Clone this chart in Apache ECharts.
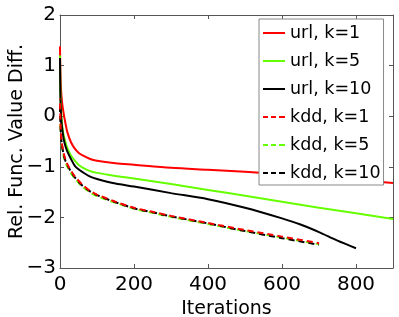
<!DOCTYPE html>
<html>
<head>
<meta charset="utf-8">
<script src="https://cdn.jsdelivr.net/npm/echarts@6/dist/echarts.min.js"></script>
<style>html,body{margin:0;padding:0;background:#fff;}#c{width:399px;height:317px;}</style>
</head>
<body>
<div id="c"></div>
<script>
// Data
var xTicks = [0, 200, 400, 600, 800];
var yTicks = [-3, -2, -1, 0, 1, 2];

var urlK1X = [0, 1, 3, 6, 10, 15, 20, 30, 40, 50, 60, 80, 100, 150, 200, 300, 400, 500, 600, 700, 800, 900];
var urlK1Y = [1.38, 0.9, 0.5, 0.25, 0.05, -0.15, -0.32, -0.52, -0.64, -0.72, -0.77, -0.84, -0.88, -0.93, -0.96, -1.02, -1.06, -1.1, -1.15, -1.2, -1.26, -1.32];

var urlK5X = [0, 1, 3, 6, 10, 15, 20, 30, 40, 50, 60, 80, 100, 150, 200, 300, 400, 500, 600, 700, 800, 900];
var urlK5Y = [1.2, 0.5, 0.1, -0.2, -0.38, -0.52, -0.63, -0.78, -0.88, -0.96, -1.01, -1.08, -1.12, -1.18, -1.23, -1.34, -1.46, -1.57, -1.69, -1.81, -1.92, -2.03];

var urlK10X = [0, 1, 3, 6, 10, 15, 20, 30, 40, 50, 60, 80, 100, 150, 200, 300, 400, 500, 600, 650, 700, 750, 800];
var urlK10Y = [1.15, 0.4, 0.0, -0.25, -0.45, -0.6, -0.7, -0.85, -0.98, -1.05, -1.1, -1.19, -1.24, -1.33, -1.39, -1.52, -1.64, -1.81, -2.02, -2.14, -2.29, -2.46, -2.61];

var kddX = [0, 2, 5, 10, 15, 20, 30, 40, 60, 80, 100, 150, 200, 250, 300, 400, 500, 600, 700];
var kddK1Y = [0.35, -0.28, -0.53, -0.73, -0.86, -0.95, -1.08, -1.19, -1.35, -1.47, -1.55, -1.69, -1.81, -1.89, -1.97, -2.11, -2.25, -2.38, -2.51];
var kddK5Y = [0.0, -0.34, -0.6, -0.8, -0.92, -1.0, -1.13, -1.23, -1.39, -1.5, -1.58, -1.71, -1.83, -1.91, -1.99, -2.13, -2.27, -2.4, -2.53];
var kddK10Y = [0.2, -0.3, -0.56, -0.76, -0.89, -0.97, -1.1, -1.21, -1.37, -1.48, -1.56, -1.7, -1.82, -1.9, -1.98, -2.12, -2.27, -2.41, -2.54];

function pairs(xs, ys) { return xs.map(function (x, i) { return [x, ys[i]]; }); }

var RED = '#ff0000', GREEN = '#66ff00', BLACK = '#000000';
var FONT = 'DejaVu Sans';
var SOLID_ICON = 'path://M0,0H22V2H0Z';
var DASH_ICON = 'path://M0,0H5V2H0ZM8,0H13V2H8ZM16,0H22V2H16Z';

function mk(name, xs, ys, color, dashed, offset) {
  return {
    name: name, type: 'line', data: pairs(xs, ys), symbol: 'none', smooth: 0.3,
    xAxisIndex: 0, yAxisIndex: 0,
    lineStyle: { color: color, width: 2, type: dashed ? [6, 4] : 'solid', dashOffset: offset || 0 },
    itemStyle: { color: color },
    animation: false
  };
}

var axisLine = { show: true, onZero: false, lineStyle: { color: '#555', width: 1 } };
var axisTick = { show: true, inside: true, length: 4, lineStyle: { color: '#555', width: 1 } };
function minus(v) { return String(v).replace('-', '\u2212'); }

var chart = echarts.init(document.getElementById('c'), null, { renderer: 'canvas' });
chart.setOption({
  backgroundColor: '#fff',
  animation: false,
  textStyle: { fontFamily: FONT },
  grid: { left: 60, right: 6, top: 15, bottom: 49, containLabel: false, outerBoundsMode: 'none' },
  xAxis: [
    { type: 'value', min: 0, max: 900, interval: 200, position: 'bottom',
      name: 'Iterations', nameLocation: 'middle', nameGap: 31,
      nameTextStyle: { fontFamily: FONT, fontSize: 19, color: '#000' },
      axisLine: axisLine, axisTick: axisTick, splitLine: { show: false },
      axisLabel: { fontFamily: FONT, fontSize: 20, color: '#000', margin: 7,
        formatter: function (v) { return xTicks.indexOf(v) >= 0 ? minus(v) : ''; } } },
    { type: 'value', min: 0, max: 900, interval: 200, position: 'top',
      axisLine: axisLine, axisTick: axisTick, splitLine: { show: false }, axisLabel: { show: false } }
  ],
  yAxis: [
    { type: 'value', min: -3, max: 2, interval: 1, position: 'left',
      name: 'Rel. Func. Value Diff.', nameLocation: 'middle', nameGap: 33, nameMoveOverlap: false,
      nameTextStyle: { fontFamily: FONT, fontSize: 19, color: '#000' },
      axisLine: axisLine, axisTick: axisTick, splitLine: { show: false },
      axisLabel: { fontFamily: FONT, fontSize: 20, color: '#000', margin: 4,
        formatter: function (v) { return yTicks.indexOf(v) >= 0 ? minus(v) : ''; } } },
    { type: 'value', min: -3, max: 2, interval: 1, position: 'right',
      axisLine: axisLine, axisTick: axisTick, splitLine: { show: false }, axisLabel: { show: false } }
  ],
  legend: {
    orient: 'vertical', left: 259, top: 19,
    padding: [5, 3, 3, 4], itemGap: 10, itemWidth: 22, itemHeight: 2,
    backgroundColor: '#fff', borderColor: '#888', borderWidth: 1,
    textStyle: { fontFamily: FONT, fontSize: 17.5, color: '#000' },
    data: [
      { name: 'url, k=1', icon: SOLID_ICON },
      { name: 'url, k=5', icon: SOLID_ICON },
      { name: 'url, k=10', icon: SOLID_ICON },
      { name: 'kdd, k=1', icon: DASH_ICON },
      { name: 'kdd, k=5', icon: DASH_ICON },
      { name: 'kdd, k=10', icon: DASH_ICON }
    ]
  },
  series: [
    mk('url, k=1', urlK1X, urlK1Y, RED, false),
    mk('url, k=5', urlK5X, urlK5Y, GREEN, false),
    mk('url, k=10', urlK10X, urlK10Y, BLACK, false),
    mk('kdd, k=5', kddX, kddK5Y, GREEN, true, 2),
    mk('kdd, k=10', kddX, kddK10Y, BLACK, true, 0),
    mk('kdd, k=1', kddX, kddK1Y, RED, true, 5)
  ]
});
</script>
</body>
</html>
